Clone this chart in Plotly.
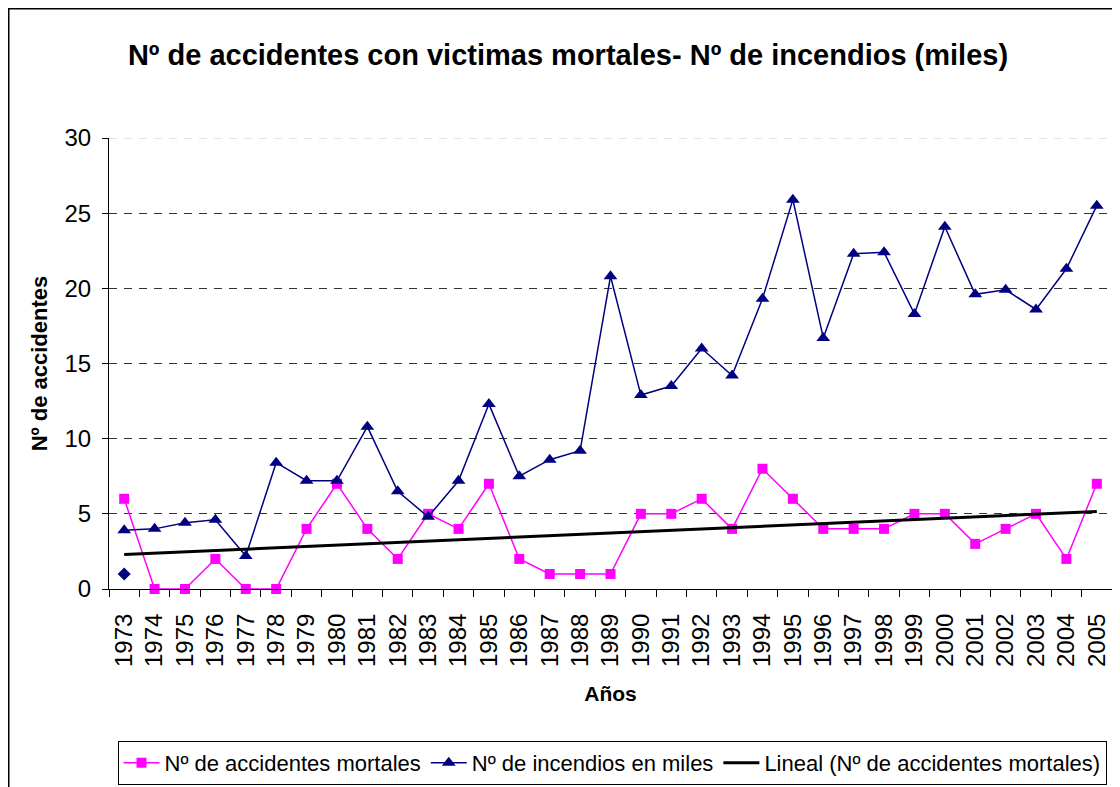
"""
Nº de accidentes con victimas mortales - Nº de incendios (miles)
"""
import numpy as np
import plotly.graph_objects as go

years = [str(y) for y in range(1973, 2006)]

accidentes = [6, 0, 0, 2, 0, 0, 4, 7, 4, 2, 5, 4, 7, 2, 1, 1, 1,
              5, 5, 6, 4, 8, 6, 4, 4, 4, 5, 5, 3, 4, 5, 2, 7]

incendios = [3.9, 4.0, 4.4, 4.6, 2.2, 8.4, 7.2, 7.2, 10.8, 6.5, 4.8,
             7.2, 12.3, 7.5, 8.6, 9.2, 20.8, 12.9, 13.5, 16.0, 14.2, 19.3,
             25.9, 16.7, 22.3, 22.4, 18.3, 24.1, 19.6, 19.9, 18.6, 21.3, 25.5]

# serie suelta (solo 1973)
serie3_x = ['1973']
serie3_y = [1]

# tendencia lineal de los accidentes mortales
idx = np.arange(len(accidentes))
pendiente, origen = np.polyfit(idx, accidentes, 1)
tendencia = pendiente * idx + origen

FONT = 'Liberation Sans, Arial, sans-serif'

fig = go.Figure()

fig.add_trace(go.Scatter(
    x=years, y=accidentes,
    mode='lines+markers',
    name='Nº de accidentes mortales',
    line=dict(color='#FF00FF', width=1.5),
    marker=dict(symbol='square', size=10, color='#FF00FF'),
    cliponaxis=False
))

fig.add_trace(go.Scatter(
    x=years, y=incendios,
    mode='lines+markers',
    name='Nº de incendios en miles',
    line=dict(color='#000080', width=1.5),
    marker=dict(symbol='triangle-up', size=12, color='#000080'),
    cliponaxis=False
))

fig.add_trace(go.Scatter(
    x=serie3_x, y=serie3_y,
    mode='markers',
    name='Serie3',
    marker=dict(symbol='diamond', size=10, color='#000080'),
    showlegend=False
))

fig.add_trace(go.Scatter(
    x=years, y=tendencia,
    mode='lines',
    name='Lineal (Nº de accidentes mortales)',
    line=dict(color='black', width=3)
))

fig.update_layout(
    width=1112, height=779,
    margin=dict(l=101, r=8, t=130, b=198, autoexpand=False),
    paper_bgcolor='white',
    plot_bgcolor='white',
    font=dict(family=FONT, color='black'),
    title=dict(
        text='<b>Nº de accidentes con victimas mortales- Nº de incendios (miles)</b>',
        x=0.5036, xanchor='center',
        y=0.9397, yanchor='middle', yref='container',
        font=dict(size=29, family=FONT, color='black')
    ),
    showlegend=True,
    legend=dict(
        orientation='h',
        x=0.5015, xanchor='center',
        y=-0.3367, yanchor='top',
        font=dict(size=22, family=FONT),
        bgcolor='white',
        bordercolor='black', borderwidth=1,
        itemwidth=36,
        traceorder='normal'
    ),
    shapes=[
        # borde exterior del gráfico
        dict(type='rect', xref='paper', yref='paper',
             x0=-0.09995, x1=1.05, y0=-0.6, y1=1.2866,
             line=dict(color='black', width=1.5)),
        # línea de cuadrícula superior más clara
        dict(type='line', xref='paper', yref='y', x0=0, x1=1, y0=30, y1=30,
             line=dict(color='white', width=2)),
        dict(type='line', xref='paper', yref='y', x0=0, x1=1, y0=30, y1=30,
             line=dict(color='#C8C8C8', width=1, dash='8px,7px')),
    ]
)

fig.update_xaxes(
    type='category',
    range=[-0.5, len(years) - 0.5],
    automargin=False,
    title=dict(text='<b>Años</b>', font=dict(size=21, family=FONT), standoff=20),
    tickmode='linear', tick0=0, dtick=1,
    tickangle=-90,
    tickfont=dict(size=24, family=FONT),
    ticks='outside', ticklen=7, tickcolor='black',
    tickson='boundaries',
    ticklabelstandoff=14,
    showline=True, linecolor='black', linewidth=1,
    showgrid=False, zeroline=False
)

fig.update_yaxes(
    automargin=False,
    title=dict(text='<b>Nº de accidentes</b>', font=dict(size=22, family=FONT), standoff=10),
    range=[0, 30], dtick=5,
    tickfont=dict(size=24, family=FONT),
    ticks='outside', ticklen=6, tickcolor='black',
    ticklabelstandoff=6,
    showline=True, linecolor='black', linewidth=1,
    showgrid=True, gridcolor='#333333', gridwidth=1, griddash='8px,7px',
    zeroline=False
)

fig.write_html("out.html")
